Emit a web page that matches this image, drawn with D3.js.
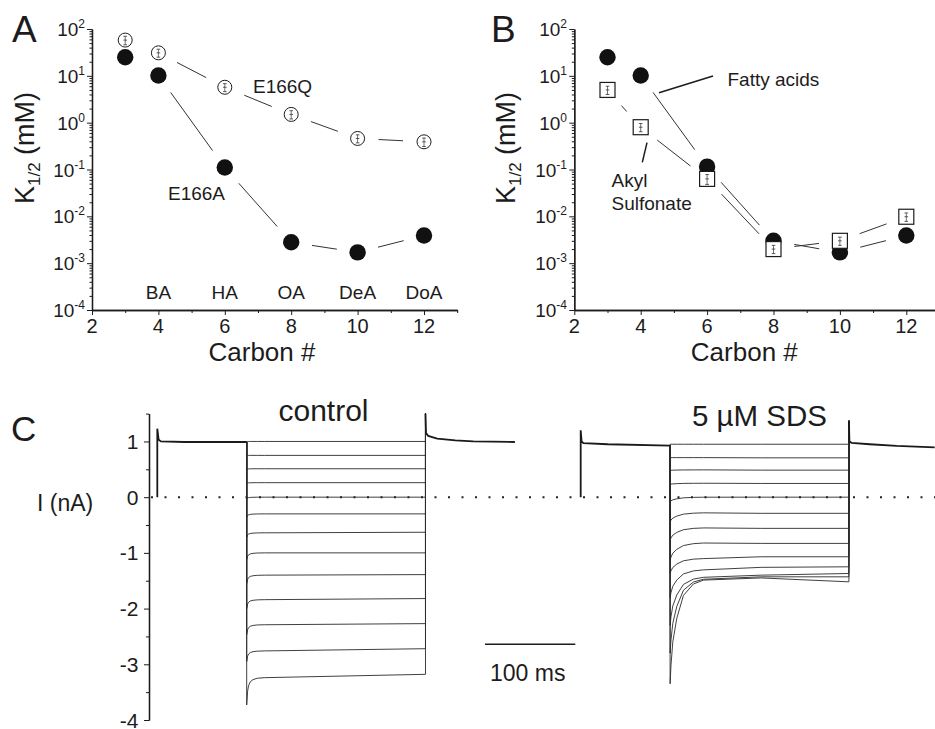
<!DOCTYPE html>
<html><head><meta charset="utf-8">
<script src="https://cdn.jsdelivr.net/npm/d3@7"></script>
<style>
body{margin:0;background:#fff}
svg{display:block}
text{font-family:"Liberation Sans",Arial,Helvetica,sans-serif;fill:#1c1c1c}
</style>
</head><body>
<svg id="fig" width="935" height="729"></svg>
<script>
// ---------------- DATA ----------------
// Panels A & B
const carbons = [3, 4, 6, 8, 10, 12];
const acidCarbons = [4, 6, 8, 10, 12];
const acidLabels = ["BA", "HA", "OA", "DeA", "DoA"];
const e166Q = [58, 31, 5.7, 1.5, 0.46, 0.39];
const e166QErr = [12, 6, 1.1, 0.3, 0.09, 0.08];
const e166A = [25, 10.2, 0.11, 0.0028, 0.0017, 0.0039];
const fattyAcids = [25, 10.2, 0.115, 0.003, 0.0017, 0.0039];
const sulfonate = [5.0, 0.8, 0.063, 0.002, 0.003, 0.0098];
const sulfonateErr = [1.0, 0.16, 0.015, 0.0004, 0.0006, 0.002];
const logTicks = [1e-4, 1e-3, 1e-2, 1e-1, 1, 10, 100];
const logTickExp = ["-4", "-3", "-2", "-1", "0", "1", "2"];
const carbonTicks = [2, 4, 6, 8, 10, 12];
const carbonMinor = [3, 5, 7, 9, 11, 13];

// Panel C (currents in nA, time in ms)
const currentTicks = [-4, -3, -2, -1, 0, 1];
const currentTickLabels = ["-4", "-3", "-2", "-1", "0", "1"];
const currentMinor = [-3.5, -2.5, -1.5, -0.5, 0.5, 1.5];
const pulseStart = 99, pulseEnd = 297;
// control
const ctrlHoldT = [0, 0, 1.5, 4, 30, 99];
const ctrlHoldV = [0, 1.23, 1.03, 1.0, 0.99, 0.99];
const ctrlPostT = [297, 297.6, 300, 310, 330, 350, 396];
const ctrlPostV = [1.5, 1.15, 1.1, 1.05, 1.02, 1.0, 0.99];
const ctrlPeak  = [1.0, 0.75, 0.5, 0.25, -0.03, -0.36, -0.72, -1.12, -1.55, -2.0, -2.47, -2.95, -3.73];
const ctrlEarly = [1.0, 0.75, 0.51, 0.26, 0.0, -0.3, -0.64, -1.0, -1.4, -1.84, -2.29, -2.76, -3.24];
const ctrlEnd   = [1.0, 0.75, 0.51, 0.26, 0.0, -0.3, -0.63, -1.0, -1.39, -1.82, -2.27, -2.72, -3.18];
const ctrlRelaxT = [0, 1, 2, 4, 7, 12, 20];
const ctrlRelaxF = [1, 0.5, 0.3, 0.15, 0.07, 0.02, 0];
// 5 uM SDS
const sdsHoldT = [0, 0, 1, 3, 30, 99];
const sdsHoldV = [0, 1.2, 1.0, 0.97, 0.95, 0.925];
const sdsPostT = [297, 297.6, 300, 320, 350, 392];
const sdsPostV = [1.37, 1.0, 0.975, 0.95, 0.92, 0.895];
const sdsPeak  = [0.95, 0.71, 0.48, 0.23, -0.08, -0.44, -0.77, -1.13, -1.37, -1.8, -2.3, -2.8, -3.35];
const sdsEarly = [0.95, 0.71, 0.49, 0.25, 0.0, -0.28, -0.55, -0.82, -1.1, -1.3, -1.43, -1.46, -1.47];
const sdsMid   = [0.95, 0.706, 0.485, 0.246, 0.0, -0.29, -0.56, -0.83, -1.07, -1.26, -1.4, -1.43, -1.45];
const sdsEnd   = [0.95, 0.706, 0.485, 0.246, 0.0, -0.29, -0.56, -0.83, -1.07, -1.25, -1.37, -1.43, -1.52];
const sdsRelaxT = [0, 1, 3, 7.4, 14.8, 25.8, 37];
const sdsRelaxF = [1, 0.82, 0.6, 0.375, 0.156, 0.047, 0.01];
const sdsMidT = 200;
const scaleBarMs = 100;

// ---------------- DRAW ----------------
const svg = d3.select("#fig");
const ink = "#1c1c1c";

function logAxes(g, x, y, labelRight) {
  const y0 = y.range()[0];
  const x0 = x.range()[0];
  const minor = y.ticks().filter(v => !logTicks.some(t => Math.abs(t - v) / t < 1e-6));
  g.append("g").attr("transform", `translate(0,${y0})`)
    .call(d3.axisBottom(x).tickValues(carbonMinor).tickSize(3).tickSizeOuter(0).tickFormat(""));
  g.append("g").attr("transform", `translate(0,${y0})`)
    .call(d3.axisBottom(x).tickValues(carbonTicks).tickSize(5).tickSizeOuter(0).tickFormat(""));
  g.append("g").attr("transform", `translate(${x0},0)`)
    .call(d3.axisLeft(y).tickValues(minor).tickSize(2.5).tickSizeOuter(0).tickFormat(""));
  g.append("g").attr("transform", `translate(${x0},0)`)
    .call(d3.axisLeft(y).tickValues(logTicks).tickSize(5).tickSizeOuter(0).tickFormat(""));
  g.selectAll(".domain").attr("stroke", ink).attr("stroke-width", 1.3);
  g.selectAll(".tick line").attr("stroke", ink).attr("stroke-width", 1);
  carbonTicks.forEach(c => {
    g.append("text").attr("x", x(c)).attr("y", 333).attr("text-anchor", "middle")
      .attr("font-size", 20).text(c);
  });
  logTicks.forEach((t, i) => {
    const tx = g.append("text").attr("x", labelRight).attr("y", y(t) + 7)
      .attr("text-anchor", "end").attr("font-size", 19);
    tx.append("tspan").text("10");
    tx.append("tspan").attr("font-size", 12).attr("dy", -8).text(logTickExp[i]);
  });
  g.append("text").attr("x", (x(2) + x(12)) / 2 + 4).attr("y", 361).attr("text-anchor", "middle")
    .attr("font-size", 26).text("Carbon #");
}

function yTitle(g, xpos, ycenter) {
  const t = g.append("text").attr("transform", `translate(${xpos},${ycenter}) rotate(-90)`)
    .attr("text-anchor", "middle").attr("font-size", 27);
  t.append("tspan").text("K");
  t.append("tspan").attr("font-size", 17).attr("dy", 6).text("1/2");
  t.append("tspan").attr("dy", -6).text(" (mM)");
}

function gapLines(g, x, y, xs, vs, gap) {
  for (let i = 0; i < xs.length - 1; i++) {
    const x1 = x(xs[i]), y1 = y(vs[i]), x2 = x(xs[i + 1]), y2 = y(vs[i + 1]);
    const dx = x2 - x1, dy = y2 - y1, L = Math.hypot(dx, dy);
    if (L <= 2 * gap + 1) continue;
    const ux = dx / L, uy = dy / L;
    g.append("line").attr("x1", x1 + ux * gap).attr("y1", y1 + uy * gap)
      .attr("x2", x2 - ux * gap).attr("y2", y2 - uy * gap)
      .attr("stroke", "#333").attr("stroke-width", 1);
  }
}

function errBar(g, cx, cy, yTop, yBot, cap) {
  g.append("line").attr("x1", cx).attr("x2", cx).attr("y1", yTop).attr("y2", yBot)
    .attr("stroke", "#333").attr("stroke-width", 0.7);
  [yTop, cy, yBot].forEach(yy => g.append("line").attr("x1", cx - cap).attr("x2", cx + cap)
    .attr("y1", yy).attr("y2", yy).attr("stroke", "#333").attr("stroke-width", 0.8));
}

// ---- Panel A ----
const xA = d3.scaleLinear([2, 13], [92, 457.2]);
const yA = d3.scaleLog([1e-4, 1e2], [310, 29]);
const gA = svg.append("g");
logAxes(gA, xA, yA, 85);
yTitle(gA, 34, 148);
gA.append("text").attr("x", 12).attr("y", 41.5).attr("font-size", 37).text("A");
gapLines(gA, xA, yA, carbons, e166Q, 21);
gapLines(gA, xA, yA, carbons, e166A, 21);
carbons.forEach((c, i) => {
  gA.append("circle").attr("cx", xA(c)).attr("cy", yA(e166A[i])).attr("r", 8.2).attr("fill", "#111");
});
carbons.forEach((c, i) => {
  gA.append("circle").attr("cx", xA(c)).attr("cy", yA(e166Q[i])).attr("r", 7)
    .attr("fill", "#fff").attr("stroke", ink).attr("stroke-width", 1);
  errBar(gA, xA(c), yA(e166Q[i]), yA(e166Q[i] + e166QErr[i]), yA(e166Q[i] - e166QErr[i]), 1.8);
});
gA.append("text").attr("x", 253).attr("y", 93).attr("font-size", 19).text("E166Q");
gA.append("text").attr("x", 168).attr("y", 199.5).attr("font-size", 19).text("E166A");
acidCarbons.forEach((c, i) => {
  gA.append("text").attr("x", xA(c)).attr("y", 298.5).attr("text-anchor", "middle")
    .attr("font-size", 19).text(acidLabels[i]);
});

// ---- Panel B ----
const xB = d3.scaleLinear([2, 13], [574.3, 939.5]);
const yB = d3.scaleLog([1e-4, 1e2], [310, 29]);
const gB = svg.append("g");
logAxes(gB, xB, yB, 567);
yTitle(gB, 515, 148);
gB.append("text").attr("x", 491).attr("y", 41.5).attr("font-size", 37).text("B");
gapLines(gB, xB, yB, carbons, fattyAcids, 21);
gapLines(gB, xB, yB, carbons, sulfonate, 21);
carbons.forEach((c, i) => {
  gB.append("circle").attr("cx", xB(c)).attr("cy", yB(fattyAcids[i])).attr("r", 8.2).attr("fill", "#111");
});
carbons.forEach((c, i) => {
  const cx = xB(c), cy = yB(sulfonate[i]);
  gB.append("rect").attr("x", cx - 7.5).attr("y", cy - 7.5).attr("width", 15).attr("height", 15)
    .attr("fill", "#fff").attr("stroke", ink).attr("stroke-width", 1.2);
  errBar(gB, cx, cy, yB(sulfonate[i] + sulfonateErr[i]), yB(sulfonate[i] - sulfonateErr[i]), 1.8);
});
gB.append("text").attr("x", 727.5).attr("y", 85.5).attr("font-size", 19).text("Fatty acids");
gB.append("line").attr("x1", 659).attr("y1", 92.7).attr("x2", 713).attr("y2", 76)
  .attr("stroke", ink).attr("stroke-width", 1.5);
gB.append("text").attr("x", 611.5).attr("y", 186.5).attr("font-size", 19).text("Akyl");
gB.append("text").attr("x", 611.5).attr("y", 209.5).attr("font-size", 19).text("Sulfonate");
gB.append("line").attr("x1", 642.3).attr("y1", 162.3).attr("x2", 647).attr("y2", 142.7)
  .attr("stroke", ink).attr("stroke-width", 1.5);

// ---- Panel C ----
const yC = d3.scaleLinear([-4, 1.5], [720, 413.6]);
const xCtrl = d3.scaleLinear([0, 100], [157.3, 247.6]);
const xSds = d3.scaleLinear([0, 100], [580.7, 671]);
const gC = svg.append("g");
gC.append("text").attr("x", 11).attr("y", 441).attr("font-size", 35).text("C");
gC.append("g").attr("transform", "translate(149,0)")
  .call(d3.axisLeft(yC).tickValues(currentMinor).tickSize(3).tickSizeOuter(0).tickFormat(""));
gC.append("g").attr("transform", "translate(149,0)")
  .call(d3.axisLeft(yC).tickValues(currentTicks).tickSize(5).tickSizeOuter(0).tickFormat(""));
gC.selectAll(".domain").attr("stroke", ink).attr("stroke-width", 1.3);
gC.selectAll(".tick line").attr("stroke", ink);
currentTicks.forEach((v, i) => {
  gC.append("text").attr("x", 138.5).attr("y", yC(v) + 7.5).attr("text-anchor", "end")
    .attr("font-size", 21).text(currentTickLabels[i]);
});
gC.append("text").attr("x", 37).attr("y", 511).attr("font-size", 23).text("I (nA)");

// zero dotted line
gC.append("line").attr("x1", 151).attr("x2", 935).attr("y1", yC(0)).attr("y2", yC(0))
  .attr("stroke", "#222").attr("stroke-width", 2).attr("stroke-dasharray", "2,11.5");

const lineGen = (xs) => d3.line().x(d => xs(d[0])).y(d => yC(d[1]));

function drawSet(xs, holdT, holdV, postT, postV, peak, early, mid, midT, end, relT, relF) {
  const holdEnd = holdV[holdV.length - 1];
  peak.forEach((p, i) => {
    const pts = [[pulseStart, holdEnd], [pulseStart, p]];
    relT.forEach((dt, k) => pts.push([pulseStart + dt, early[i] + (p - early[i]) * relF[k]]));
    if (mid) pts.push([midT, mid[i]]);
    pts.push([pulseEnd, end[i]]);
    pts.push([pulseEnd, postV[0]]);
    gC.append("path").attr("d", lineGen(xs)(pts)).attr("fill", "none")
      .attr("stroke", "#2a2a2a").attr("stroke-width", 0.9);
  });
  gC.append("path").attr("d", lineGen(xs)(holdT.map((t, i) => [t, holdV[i]])))
    .attr("fill", "none").attr("stroke", "#1a1a1a").attr("stroke-width", 1.8);
  gC.append("path").attr("d", lineGen(xs)(postT.map((t, i) => [t, postV[i]])))
    .attr("fill", "none").attr("stroke", "#1a1a1a").attr("stroke-width", 1.8);
}
drawSet(xCtrl, ctrlHoldT, ctrlHoldV, ctrlPostT, ctrlPostV, ctrlPeak, ctrlEarly, null, 0, ctrlEnd, ctrlRelaxT, ctrlRelaxF);
drawSet(xSds, sdsHoldT, sdsHoldV, sdsPostT, sdsPostV, sdsPeak, sdsEarly, sdsMid, sdsMidT, sdsEnd, sdsRelaxT, sdsRelaxF);

gC.append("text").attr("x", 323.5).attr("y", 421).attr("text-anchor", "middle")
  .attr("font-size", 30).text("control");
gC.append("text").attr("x", 759.5).attr("y", 426).attr("text-anchor", "middle")
  .attr("font-size", 29.5).text("5 \u00B5M SDS");

// scale bar
const sbLen = xSds(scaleBarMs) - xSds(0);
gC.append("line").attr("x1", 485).attr("x2", 485 + sbLen).attr("y1", 644.3).attr("y2", 644.3)
  .attr("stroke", ink).attr("stroke-width", 1.6);
gC.append("text").attr("x", 490).attr("y", 681).attr("font-size", 23).text("100 ms");
</script>
</body></html>
